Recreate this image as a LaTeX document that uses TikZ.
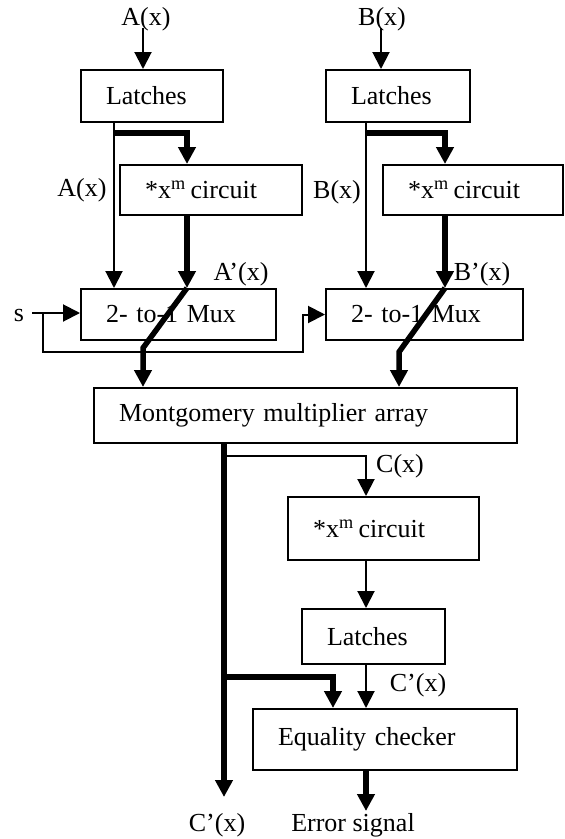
\documentclass[tikz,border=0pt]{standalone}
\usepackage{fontspec}
\setmainfont{Liberation Serif}
\usetikzlibrary{arrows.meta}

\newcommand{\xmtext}{*x\textsuperscript{m}\hspace{5pt}circuit}

\begin{document}
\begin{tikzpicture}[x=1pt, y=-1pt,
    font=\fontsize{26}{30}\selectfont,
    >={Triangle[length=17pt,width=17pt]},
    blk/.style = {draw, line width=2pt, anchor=north west, align=left,
        inner xsep=25pt, inner ysep=0pt},
    wire/.style = {line width=2pt, ->},
    bus/.style = {line width=5.5pt, ->},
    lbl/.style = {inner sep=0pt}]
\useasboundingbox (0,0) rectangle (565,839);

\node[blk, text width=92pt, minimum height=52pt] (latA) at (80,69) {Latches};
\node[blk, text width=132pt, minimum height=50pt] (xmA) at (119,164) {\xmtext};
\node[blk, text width=145pt, minimum height=51pt] (muxA) at (80,288) {2- to-1 Mux};
\node[blk, text width=94pt, minimum height=52pt] (latB) at (325,69) {Latches};
\node[blk, text width=130pt, minimum height=50pt] (xmB) at (382,164) {\xmtext};
\node[blk, text width=147pt, minimum height=51pt] (muxB) at (325,288) {2- to-1 Mux};
\node[blk, text width=373pt, minimum height=55pt] (mma) at (93,387) {Montgomery multiplier array};
\node[blk, text width=141pt, minimum height=63pt] (xmC) at (287,496) {\xmtext};
\node[blk, text width=93pt, minimum height=55pt] (latC) at (301,608) {Latches};
\node[blk, text width=214pt, minimum height=61pt] (eq) at (252,708) {Equality checker};

\node[lbl] (inA) at (146,19) {A(x)};
\node[lbl] (inB) at (382,19) {B(x)};
\node[lbl] (labA) at (82,190) {A(x)};
\node[lbl] (labB) at (337,192) {B(x)};
\node[lbl] (labA2) at (241,274) {A'(x)};
\node[lbl] (labB2) at (482,274) {B'(x)};
\node[lbl] (sel) at (19,315) {s};
\node[lbl] (labC) at (400,466) {C(x)};
\node[lbl] (labC2) at (418,685) {C'(x)};
\node[lbl] (outC) at (217,825) {C'(x)};
\node[lbl] (err) at (353,825) {Error signal};

\coordinate (a0) at (143,28);
\coordinate (sA) at (114,133);
\coordinate (tA) at (187,214);
\coordinate (kA) at (143,348);
\coordinate (b0) at (381,28);
\coordinate (sB) at (366,133);
\coordinate (tB) at (445,214);
\coordinate (kB) at (399,352);
\coordinate (s0) at (32,313);
\coordinate (fb) at (43,352);
\coordinate (fb2) at (303,352);
\coordinate (m0) at (224,456);
\coordinate (m1) at (224,797);
\coordinate (m2) at (224,677);
\coordinate (c0) at (366,456);
\coordinate (e0) at (333,677);
\coordinate (e1) at (366,811);

\draw[wire] (a0) -- (a0 |- latA.north);
\draw[wire] (latA.south -| sA) -- (muxA.north -| sA);
\draw[bus] (sA) -| (tA |- xmA.north);
\draw[bus] (tA) -- (tA |- muxA.north);
\draw[bus] (tA |- muxA.north) -- (kA) -- (kA |- mma.north);

\draw[wire] (b0) -- (b0 |- latB.north);
\draw[wire] (latB.south -| sB) -- (muxB.north -| sB);
\draw[bus] (sB) -| (tB |- xmB.north);
\draw[bus] (tB) -- (tB |- muxB.north);
\draw[bus] (tB |- muxB.north) -- (kB) -- (kB |- mma.north);

\draw[wire] (s0) -- (s0 -| muxA.west);
\draw[wire] (fb |- s0) -- (fb) -- (fb2) |- (muxB.west);

\draw[bus] (mma.south -| m0) -- (m1);
\draw[wire] (m0) -| (xmC.north -| c0);
\draw[wire] (xmC.south -| c0) -- (latC.north -| c0);
\draw[wire] (latC.south -| c0) -- (eq.north -| c0);
\draw[bus] (m2) -| (eq.north -| e0);
\draw[bus] (eq.south -| e1) -- (e1);
\end{tikzpicture}
\end{document}
